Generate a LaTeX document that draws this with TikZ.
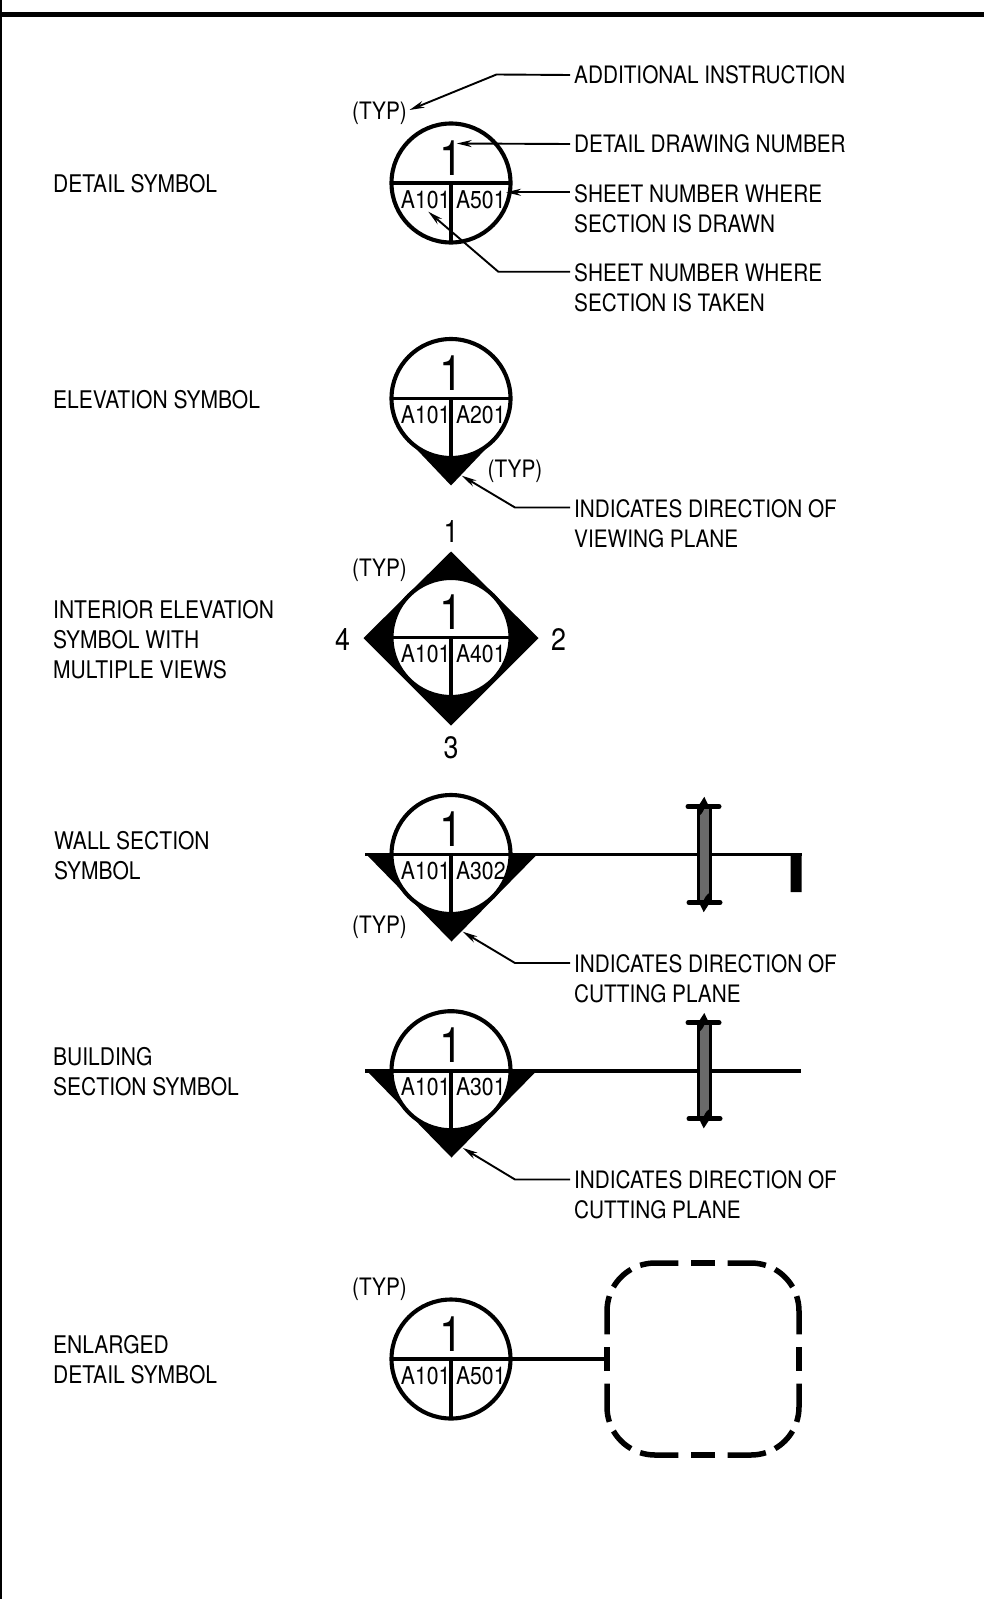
\documentclass[tikz,border=0pt]{standalone}
\usepackage{fontspec}
\setmainfont[FakeStretch=0.865]{TeX Gyre Heros}
\usetikzlibrary{arrows.meta,calc}
\tikzset{
  symcircle/.style={circle,draw=black,fill=white,line width=4.1bp,minimum size=119bp,inner sep=0pt,outer sep=0pt},
  divider/.style={line width=3.9bp,black},
  bignum/.style={font=\fontsize{49bp}{49bp}\selectfont,inner sep=0pt,anchor=base},
  sheetno/.style={font=\fontsize{24.5bp}{24.5bp}\selectfont,inner sep=0pt,anchor=base},
  viewno/.style={font=\fontsize{31bp}{31bp}\selectfont,inner sep=0pt},
  lbl/.style={font=\fontsize{24.3bp}{30bp}\selectfont,align=left,inner sep=0pt,anchor=west},
  rlbl/.style={font=\fontsize{24bp}{30bp}\selectfont,align=left,inner ysep=0pt,inner xsep=4bp,anchor=west},
  typ/.style={font=\fontsize{24bp}{24bp}\selectfont,inner sep=0pt},
  leader/.style={line width=1.9bp,black,-{Stealth[length=15bp,width=7bp]}},
  cutline/.style={line width=3.9bp,black},
  dashseg/.style={line width=5.5bp,black},
  bandedge/.style={line width=3bp,black},
  tick/.style={line width=5bp,black,line cap=round},
}
\definecolor{bandgray}{HTML}{6A6A6A}
\newcommand{\sheetsym}[6]{%
  \node[symcircle] (#1) at (#2,#3) {};
  \draw[divider] (#1.west) -- (#1.east);
  \draw[divider] (#1.center) -- (#1.south);
  \node[bignum] (#1-num) at (#2,#3-8) {#4};
  \node[sheetno] (#1-left) at (#2-25.3,#3+25) {#5};
  \node[sheetno] (#1-right) at (#2+29.8,#3+25) {#6};
}
\newcommand{\breakmark}[1]{%
  \fill[bandgray] (698,#1-46) rectangle (710,#1+46);
  \draw[bandedge] (698,#1-46) -- (698,#1+46);
  \draw[bandedge] (710,#1-46) -- (710,#1+46);
  \foreach \ang in {0,180}{
    \begin{scope}[rotate around={\ang:(704,#1)}]
      \draw[tick] (688,#1-48) -- (719,#1-48);
      \fill[black] (704.3,#1-57.7) .. controls (702,#1-53) .. (698,#1-48) -- (698,#1-38)
        .. controls (702,#1-41) .. (705,#1-47) -- (710,#1-46) .. controls (708,#1-50) .. (704.3,#1-57.7) -- cycle;
    \end{scope}
  }
}
\begin{document}
\begin{tikzpicture}[x=1bp,y=-1bp]
\useasboundingbox (0,0) rectangle (984,1599);
\fill[white] (0,0) rectangle (984,1599);
% frame
\fill[black] (0,12.3) rectangle (984,17.3);
\fill[black] (0,0) rectangle (2,1599);

% left labels
\node[lbl] (l1) at (53,183.5) {DETAIL SYMBOL};
\node[lbl] (l2) at (53,399.5) {ELEVATION SYMBOL};
\node[lbl] (l3) at (53,639.5) {INTERIOR ELEVATION\\SYMBOL WITH\\MULTIPLE VIEWS};
\node[lbl] (l4) at (54,855.5) {WALL SECTION\\SYMBOL};
\node[lbl] (l5) at (53,1071.5) {BUILDING\\SECTION SYMBOL};
\node[lbl] (l6) at (53,1359.5) {ENLARGED\\DETAIL SYMBOL};

% detail symbol
\sheetsym{det}{451}{183}{1}{A101}{A501}
\node[typ] (typ1) at (379.5,113.5) {(TYP)};
\node[rlbl] (r1) at (570,75) {ADDITIONAL INSTRUCTION};
\node[rlbl] (r2) at (570,144) {DETAIL DRAWING NUMBER};
\node[rlbl] (r3) at (570,208.5) {SHEET NUMBER WHERE\\SECTION IS DRAWN};
\node[rlbl] (r4) at (570,288) {SHEET NUMBER WHERE\\SECTION IS TAKEN};
\coordinate (t1) at (409.5,110);
\coordinate (e1) at (496.5,74.5);
\coordinate (t2) at (456.7,143.5);
\coordinate (t3) at (506,192.3);
\coordinate (t4) at (428.3,211.7);
\coordinate (e4) at (498.3,271.7);
\draw[leader] (r1.west) -- (e1) -- (t1);
\draw[leader] (r2.west) -- (t2);
\draw[leader] (r3.west |- t3) -- (t3);
\draw[leader] (r4.west |- e4) -- (e4) -- (t4);

% elevation symbol
\fill[black] (408.6,440.9) -- (451,485.5) -- (493.4,440.9) -- cycle;
\sheetsym{elv}{451}{398.5}{1}{A101}{A201}
\node[typ] (typ2) at (515,471.5) {(TYP)};
\node[rlbl] (r5) at (570,524) {INDICATES DIRECTION OF\\VIEWING PLANE};
\coordinate (t5) at (461.7,475.7);
\coordinate (e5) at (515,507.5);
\draw[leader] (r5.west |- e5) -- (e5) -- (t5);

% interior elevation symbol
\fill[black] (451,551.5) -- (538.5,638) -- (451,725.5) -- (363.5,638) -- cycle;
\sheetsym{int}{451}{637.5}{1}{A101}{A401}
\node[typ] (typ3) at (379.5,570.5) {(TYP)};
\node[viewno] (v1) at (451,532) {1};
\node[viewno] (v2) at (558.5,639.5) {2};
\node[viewno] (v3) at (451,748) {3};
\node[viewno] (v4) at (342.5,639.5) {4};

% wall section symbol
\fill[black] (365,853) -- (538.5,853) -- (451.5,941.5) -- cycle;
\sheetsym{wal}{451}{854.5}{1}{A101}{A302}
\draw[cutline] (365,854.5) -- (wal.west);
\coordinate (wend) at (801.7,854.5);
\draw[cutline] (wal.east) -- (wend);
\fill[black] (790.7,854.5) -- (801.7,853) -- (801.7,892) -- (790.7,892) -- cycle;
\breakmark{854.5}
\node[typ] (typ4) at (379.5,927.5) {(TYP)};
\node[rlbl] (r6) at (570,978.5) {INDICATES DIRECTION OF\\CUTTING PLANE};
\coordinate (t6) at (462.7,931.7);
\coordinate (e6) at (515,963);
\draw[leader] (r6.west |- e6) -- (e6) -- (t6);

% building section symbol
\fill[black] (365,1069) -- (538.5,1069) -- (451.5,1157.5) -- cycle;
\sheetsym{bld}{451}{1070.7}{1}{A101}{A301}
\draw[cutline] (365,1070.7) -- (bld.west);
\coordinate (bend) at (801,1070.7);
\draw[cutline] (bld.east) -- (bend);
\breakmark{1070.7}
\node[rlbl] (r7) at (570,1195) {INDICATES DIRECTION OF\\CUTTING PLANE};
\coordinate (t7) at (462.7,1147.9);
\coordinate (e7) at (515,1179.5);
\draw[leader] (r7.west |- e7) -- (e7) -- (t7);

% enlarged detail symbol
\sheetsym{enl}{451}{1359}{1}{A101}{A501}
\node[typ] (typ5) at (379.5,1289.5) {(TYP)};
\coordinate (boxleft) at (607,1359);
\draw[cutline] (enl.east) -- (boxleft);
\foreach \ang in {0,90,180,270}{
  \begin{scope}[rotate around={\ang:(703,1359)}]
    \draw[dashseg] (640.17,1265.35) arc[start angle=252,end angle=270,radius=48] -- (678.3,1263);
    \draw[dashseg] (691,1263) -- (715,1263);
    \draw[dashseg] (727.7,1263) -- (751,1263) arc[start angle=270,end angle=288,radius=48];
    \draw[dashseg] (613.43,1287) arc[start angle=210,end angle=240,radius=48];
  \end{scope}
}
\end{tikzpicture}
\end{document}
